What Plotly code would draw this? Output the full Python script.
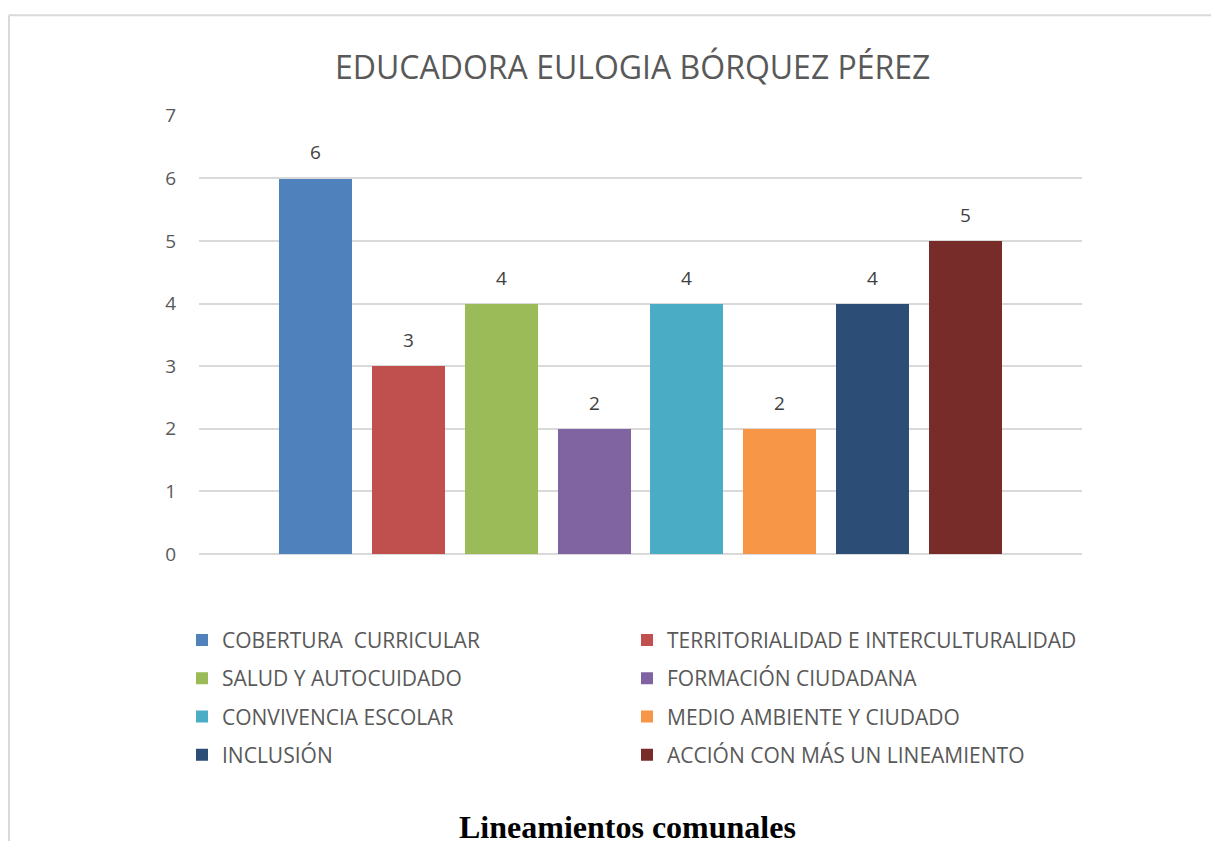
import plotly.graph_objects as go

title_text = "EDUCADORA EULOGIA BÓRQUEZ PÉREZ"
footer_text = "Lineamientos comunales"
categories = [
    "COBERTURA  CURRICULAR",
    "TERRITORIALIDAD E INTERCULTURALIDAD",
    "SALUD Y AUTOCUIDADO",
    "FORMACIÓN CIUDADANA",
    "CONVIVENCIA ESCOLAR",
    "MEDIO AMBIENTE Y CIUDADO",
    "INCLUSIÓN",
    "ACCIÓN CON MÁS UN LINEAMIENTO",
]
values = [6, 3, 4, 2, 4, 2, 4, 5]
colors = ["#4F81BD", "#C0504D", "#9BBB59", "#8064A2",
          "#4BACC6", "#F79646", "#2C4D75", "#772C2A"]
y_ticks = [0, 1, 2, 3, 4, 5, 6, 7]

# figure sized to fit the 1219x862 window inside the default 8px page margin
OFF = 8
FW, FH = 1219 - 2 * OFF, 862 - 2 * OFF

FONT = "Open Sans"
GREY = "#595959"


def sx(x):
    return (x - OFF) / FW


def sy(y):
    yi = (y - 12.1) / 0.973
    return 1 - (yi - OFF) / FH


fig = go.Figure()
for i, (cat, val, col) in enumerate(zip(categories, values, colors)):
    fig.add_trace(go.Bar(
        x=[i], y=[val], name=cat, width=0.785,
        marker=dict(color=col, line=dict(width=0)),
        legend="legend" if i % 2 == 0 else "legend2",
        legendgroup=f"g{i}",
        hoverinfo="name+y",
    ))
    fig.add_annotation(x=i, y=val, text=str(val), showarrow=False,
                       yshift=26, font=dict(family=FONT, size=19, color="#404040"))

legend_common = dict(
    font=dict(family=FONT, size=21, color=GREY),
    bgcolor="rgba(0,0,0,0)", borderwidth=0,
    orientation="v", tracegroupgap=8,
    xanchor="left", yanchor="top", itemclick=False, itemdoubleclick=False,
)

fig.update_layout(
    width=FW, height=FH,
    margin=dict(l=0, r=0, t=0, b=0),
    paper_bgcolor="white", plot_bgcolor="white",
    showlegend=True,
    bargap=0,
    xaxis=dict(domain=[sx(199), sx(1082)], range=[-1.25, 8.25],
               showticklabels=False, showgrid=False, zeroline=False,
               fixedrange=True),
    yaxis=dict(domain=[sy(555), sy(115)], range=[0, 7], tickvals=y_ticks,
               showgrid=True, gridcolor="#D9D9D9", gridwidth=1.5,
               zeroline=True, zerolinecolor="#D9D9D9", zerolinewidth=1.5,
               ticks="", ticklabelstandoff=22,
               tickfont=dict(family=FONT, size=19, color=GREY), fixedrange=True),
    legend=dict(x=sx(182), y=sy(621), **legend_common),
    legend2=dict(x=sx(627), y=sy(621), **legend_common),
    annotations=list(fig.layout.annotations) + [
        dict(text=title_text, x=sx(632), y=sy(66), xref="paper", yref="paper",
             showarrow=False, font=dict(family=FONT, size=32, color=GREY),
             xanchor="center", yanchor="middle"),
        dict(text=f"<b>{footer_text}</b>", x=sx(627), y=sy(829), xref="paper",
             yref="paper", showarrow=False,
             font=dict(family="Liberation Serif", size=32, color="black"),
             xanchor="center", yanchor="middle"),
    ],
    shapes=[
        dict(type="line", xref="paper", yref="paper", x0=sx(9), x1=sx(9),
             y0=sy(14), y1=0, line=dict(color="#D9D9D9", width=2)),
        dict(type="line", xref="paper", yref="paper", x0=sx(9), x1=1,
             y0=sy(14), y1=sy(14), line=dict(color="#D9D9D9", width=2)),
    ],
)

fig.write_html("out.html")
